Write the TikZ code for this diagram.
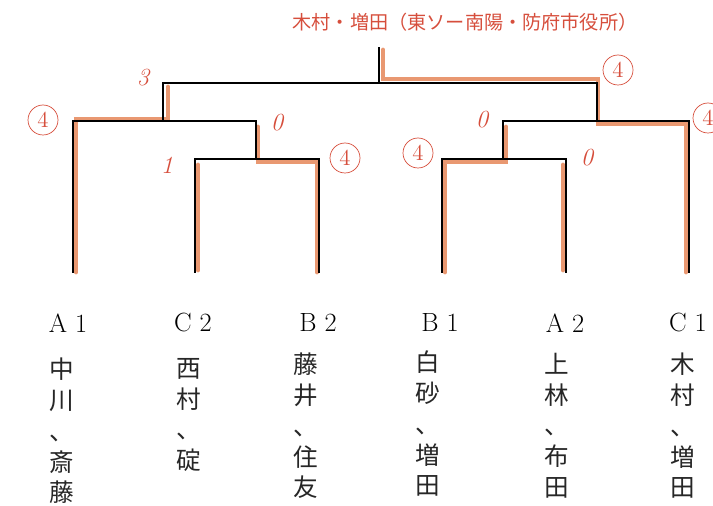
\documentclass[tikz,border=0pt]{standalone}
\usepackage{fontspec}
\newfontfamily\jpfont{Noto Sans CJK JP}
\definecolor{pencil}{RGB}{226,118,66}
\definecolor{redpen}{RGB}{214,78,60}

\begin{document}
\begin{tikzpicture}[x=0.02cm,y=-0.02cm,
	bracket/.style={black, line width=0.8pt},
	hilite/.style={pencil, line width=2.8pt, opacity=0.75, line cap=round},
	team/.style={font=\fontsize{15}{18}\selectfont},
	player/.style={anchor=north, align=center, text=black!85, font=\jpfont\fontsize{14}{17.5}\selectfont},
	pts/.style={text=redpen, font=\fontsize{14}{14}\selectfont\itshape},
	winpts/.style={draw=redpen, circle, thin, inner sep=0pt, minimum size=0.6cm, text=redpen, font=\fontsize{13}{13}\selectfont},
	headline/.style={text=redpen, font=\jpfont\fontsize{10.9}{13}\selectfont}]
%		\draw [help lines] (0,0) grid (713,506);
		\useasboundingbox (0,0) rectangle (713,506);
		%Teams
		\coordinate (A1) at (73,273);
		\coordinate (C2) at (195,273);
		\coordinate (B2) at (319,273);
		\coordinate (B1) at (442,273);
		\coordinate (A2) at (566,273);
		\coordinate (C1) at (689,273);
		%Matches
		\coordinate (m1) at (256,159);
		\coordinate (m2) at (503,159);
		\coordinate (s1) at (163,121);
		\coordinate (s2) at (597,121);
		\coordinate (fin) at (379,83);
		\coordinate (win) at (379,47);
		%Pencil
		\draw [hilite] (76,272) -- (76,119) -- (168,119) -- (168,87);
		\draw [hilite] (198,270) -- (198,165);
		\draw [hilite] (317,272) -- (317,162) -- (258,162) -- (258,127);
		\draw [hilite] (445,272) -- (445,162) -- (506,162) -- (506,127);
		\draw [hilite] (563,270) -- (563,165);
		\draw [hilite] (686,272) -- (686,124) -- (598,124) -- (598,79) -- (383,79) -- (383,50);
		%Bracket
		\draw [bracket] (C2) |- (m1) -| (B2);
		\draw [bracket] (A1) |- (s1) -| (m1);
		\draw [bracket] (B1) |- (m2) -| (A2);
		\draw [bracket] (m2) |- (s2) -| (C1);
		\draw [bracket] (s1) |- (fin) -| (s2);
		\draw [bracket] (fin) -- (win);
		%Scores
		\node [pts] (p1) at (143,78) {3};
		\node [winpts] (p2) at (43,120) {4};
		\node [pts] (p3) at (277,123) {0};
		\node [pts] (p4) at (167,165) {1};
		\node [winpts] (p5) at (345,158) {4};
		\node [winpts] (p6) at (618,70) {4};
		\node [pts] (p7) at (482,120) {0};
		\node [winpts] (p8) at (418,153) {4};
		\node [pts] (p9) at (587,158) {0};
		\node [winpts] (p10) at (708,118) {4};
		%Winner
		\node [headline] (champ) at (465,22) {木村・増田（東ソー南陽・防府市役所）};
		%Names
		\node [team] (t-A1) at (68,323) {A\hspace{0.3em}1};
		\node [team] (t-C2) at (193,323) {C\hspace{0.3em}2};
		\node [team] (t-B2) at (318,323) {B\hspace{0.3em}2};
		\node [team] (t-B1) at (440,323) {B\hspace{0.3em}1};
		\node [team] (t-A2) at (565,323) {A\hspace{0.3em}2};
		\node [team] (t-C1) at (688,323) {C\hspace{0.3em}1};
		\node [player] (n-A1) at (62,352) {中\\川\\、\\斎\\藤};
		\node [player] (n-C2) at (189,352) {西\\村\\、\\碇};
		\node [player] (n-B2) at (306,347) {藤\\井\\、\\住\\友};
		\node [player] (n-B1) at (428,345) {白\\砂\\、\\増\\田};
		\node [player] (n-A2) at (557,347) {上\\林\\、\\布\\田};
		\node [player] (n-C1) at (683,347) {木\\村\\、\\増\\田};
\end{tikzpicture}
\end{document}
